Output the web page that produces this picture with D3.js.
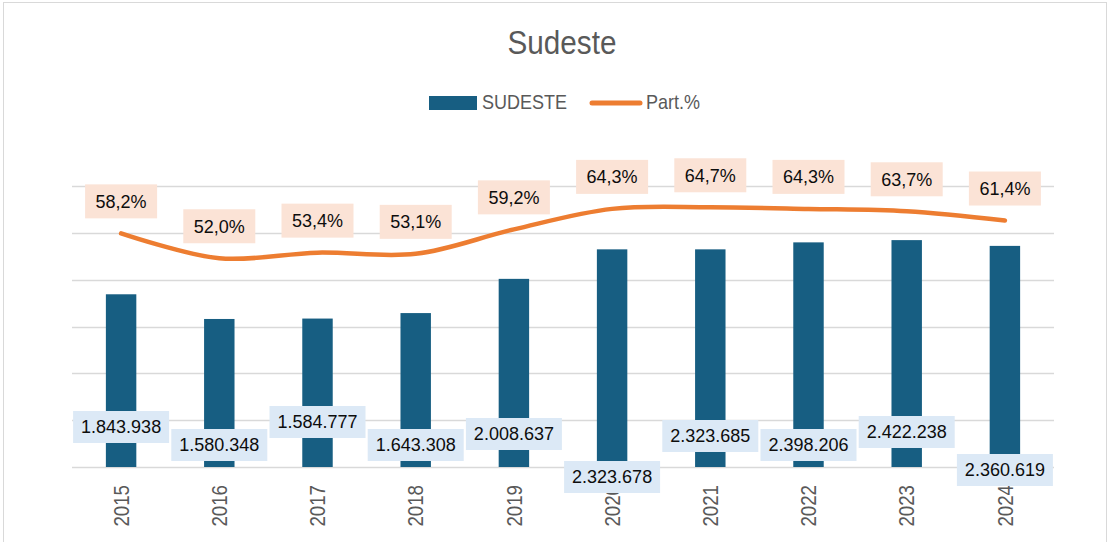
<!DOCTYPE html>
<html>
<head>
<meta charset="utf-8">
<script src="https://cdn.jsdelivr.net/npm/d3@7"></script>
<style>
  body { margin: 0; background: #fff; }
  svg { display: block; }
  text { font-family: "Liberation Sans", Arial, sans-serif; }
</style>
</head>
<body>
<div id="chart"></div>
<script>
// data
var years = ["2015", "2016", "2017", "2018", "2019", "2020", "2021", "2022", "2023", "2024"];
var sudeste = [1843938, 1580348, 1584777, 1643308, 2008637, 2323678, 2323685, 2398206, 2422238, 2360619];
var partPct = [58.2, 52.0, 53.4, 53.1, 59.2, 64.3, 64.7, 64.3, 63.7, 61.4];
var yTicks = [0, 500000, 1000000, 1500000, 2000000, 2500000, 3000000];

// vertical nudge of the bar value labels (Excel placed them by hand)
var barLabelDy = [-40, -22, -45, -22, -33, 10, -31, -22, -35, 3];

var width = 1113, height = 542;
var margin = {left: 72, right: 59, top: 186, bottom: 75};

var svg = d3.select("#chart").append("svg")
    .attr("width", width)
    .attr("height", height);

// chart frame
svg.append("rect")
    .attr("x", 3.5).attr("y", 2.5)
    .attr("width", 1103).attr("height", 560)
    .attr("fill", "#fff")
    .attr("stroke", "#d9d9d9")
    .attr("stroke-width", 1);

var x = d3.scaleBand()
    .domain(years)
    .range([margin.left, width - margin.right])
    .padding(0);

var y = d3.scaleLinear()
    .domain([0, 3000000])
    .range([height - margin.bottom, margin.top]);

var y2 = d3.scaleLinear()
    .domain([0, 70])
    .range([height - margin.bottom, margin.top]);

var barW = x.bandwidth() * 0.31;
var cx = function(d) { return x(d) + x.bandwidth() / 2; };

// gridlines
svg.append("g")
  .selectAll("line")
  .data(yTicks)
  .enter()
  .append("line")
    .attr("x1", margin.left)
    .attr("x2", width - margin.right)
    .attr("y1", function(d) { return Math.round(y(d)) + 0.5; })
    .attr("y2", function(d) { return Math.round(y(d)) + 0.5; })
    .attr("stroke", "#d9d9d9")
    .attr("stroke-width", 1.5);

// bars
svg.append("g")
  .selectAll("rect")
  .data(sudeste)
  .enter()
  .append("rect")
    .attr("x", function(d, i) { return cx(years[i]) - barW / 2; })
    .attr("y", function(d) { return y(d); })
    .attr("width", barW)
    .attr("height", function(d) { return y(0) - y(d); })
    .attr("fill", "#175e82");

// line
var line = d3.line()
    .x(function(d, i) { return cx(years[i]); })
    .y(function(d) { return y2(d); })
    .curve(d3.curveCatmullRom.alpha(0.5));

svg.append("path")
    .datum(partPct)
    .attr("d", line)
    .attr("fill", "none")
    .attr("stroke", "#ed7d31")
    .attr("stroke-width", 4.5)
    .attr("stroke-linecap", "round");

// x axis labels (narrow look: squeeze along the text direction)
var xAxis = svg.append("g")
    .attr("transform", "translate(0," + y(0) + ")")
    .call(d3.axisBottom(x).tickSize(0).tickPadding(0));
xAxis.select(".domain").remove();
xAxis.selectAll("text")
    .attr("transform", "translate(0,18) rotate(-90) scale(0.85,1)")
    .attr("x", 0)
    .attr("y", 0)
    .attr("dy", "0.35em")
    .attr("text-anchor", "end")
    .attr("fill", "#595959")
    .style("font-size", "22px")
    .style("font-family", "'Liberation Sans', Arial, sans-serif");

// bar value labels
var fmtNum = function(v) { return d3.format(",")(v).replace(/,/g, "."); };
var barLab = svg.append("g")
  .selectAll("g")
  .data(sudeste)
  .enter()
  .append("g")
    .attr("transform", function(d, i) {
      return "translate(" + cx(years[i]) + "," + (y(0) + barLabelDy[i]) + ")";
    });
barLab.append("rect")
    .attr("x", -48).attr("y", -16)
    .attr("width", 96).attr("height", 32)
    .attr("fill", "#dce9f6");
barLab.append("text")
    .attr("text-anchor", "middle")
    .attr("dy", "0.36em")
    .attr("fill", "#0d0d0d")
    .style("font-size", "18px")
    .text(fmtNum);

// percentage labels
var pctLab = svg.append("g")
  .selectAll("g")
  .data(partPct)
  .enter()
  .append("g")
    .attr("transform", function(d, i) {
      return "translate(" + cx(years[i]) + "," + (y2(d) - 32) + ")";
    });
pctLab.append("rect")
    .attr("x", -36).attr("y", -17)
    .attr("width", 72).attr("height", 34)
    .attr("fill", "#fbe3d6");
pctLab.append("text")
    .attr("text-anchor", "middle")
    .attr("dy", "0.36em")
    .attr("fill", "#0d0d0d")
    .style("font-size", "18px")
    .text(function(d) { return d.toFixed(1).replace(".", ",") + "%"; });

// title
svg.append("text")
    .attr("transform", "translate(562,54) scale(0.9,1)")
    .attr("text-anchor", "middle")
    .attr("fill", "#595959")
    .style("font-size", "33px")
    .text("Sudeste");

// legend
var leg = svg.append("g");
leg.append("rect")
    .attr("x", 429).attr("y", 96)
    .attr("width", 48).attr("height", 14)
    .attr("fill", "#175e82");
leg.append("text")
    .attr("transform", "translate(482,109) scale(0.9,1)")
    .attr("fill", "#595959")
    .style("font-size", "20px")
    .text("SUDESTE");
leg.append("line")
    .attr("x1", 592).attr("x2", 640)
    .attr("y1", 103).attr("y2", 103)
    .attr("stroke", "#ed7d31")
    .attr("stroke-width", 5)
    .attr("stroke-linecap", "round");
leg.append("text")
    .attr("transform", "translate(646,109) scale(0.9,1)")
    .attr("fill", "#595959")
    .style("font-size", "20px")
    .text("Part.%");
</script>
</body>
</html>
